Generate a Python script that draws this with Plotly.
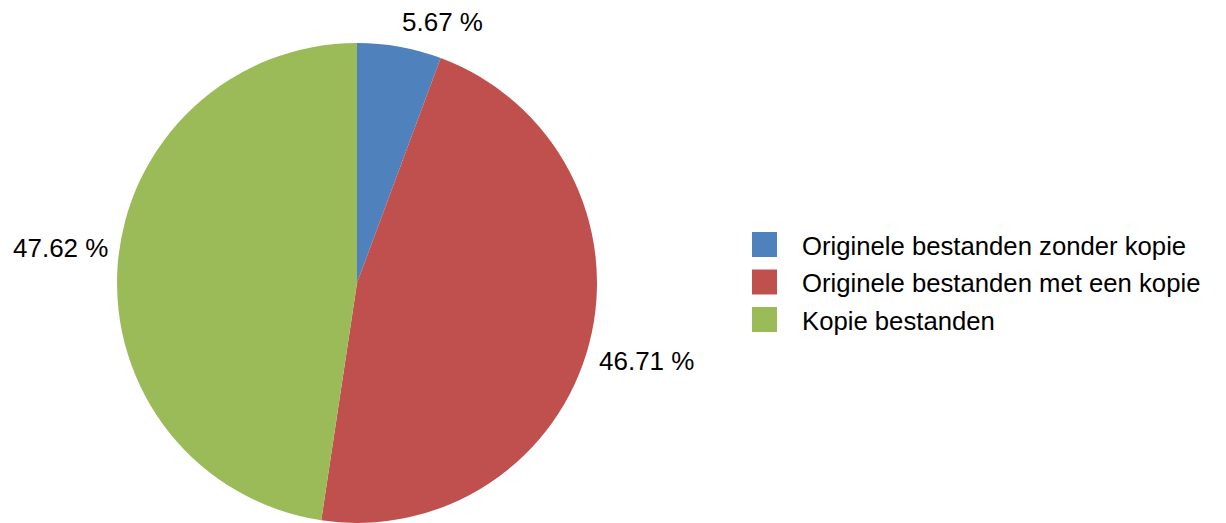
import math
import plotly.graph_objects as go

categories = ["Originele bestanden zonder kopie", "Originele bestanden met een kopie", "Kopie bestanden"]
percentages = [5.67, 46.71, 47.62]
colors = ["#4F81BD", "#C0504D", "#9BBB59"]

W, H = 1226, 523
FONT = "Liberation Sans, Arial, sans-serif"
FS_LABEL = 26
FS_LEGEND = 25.7

# pie placement (pixels from top-left)
cx, r = 357, 240
top = 43
cy = top + r
dom_x = [(cx - r) / W, (cx + r) / W]
dom_y = [max(0.0, (H - (cy + r)) / H), (H - top) / H]

fig = go.Figure()
fig.add_trace(go.Pie(
    labels=categories,
    values=percentages,
    marker=dict(colors=colors, line=dict(width=0)),
    sort=False,
    direction="clockwise",
    rotation=0,
    textposition="none",
    showlegend=False,
    domain=dict(x=dom_x, y=dom_y),
    hoverinfo="label+value",
))

# outside data labels, placed at the mid-angle of each slice
total = sum(percentages)
cum = 0.0
gap = 9
for v in percentages:
    mid = (cum + v / 2) / total * 2 * math.pi
    cum += v
    dx, dy = math.sin(mid), math.cos(mid)  # dy: upward
    px = cx + (r + gap) * dx
    py = cy - (r + gap) * dy
    fig.add_annotation(
        xref="paper", yref="paper",
        x=px / W, y=1 - py / H,
        xanchor="left" if dx >= 0 else "right",
        yanchor="bottom" if dy >= 0 else "top",
        showarrow=False, borderpad=0,
        text=f"{v:.2f} %",
        font=dict(family=FONT, size=FS_LABEL, color="#000000"),
    )

# legend with large square swatches
leg_x0, leg_y0, sw, step = 752, 232, 25, 37.5
for i, (name, col) in enumerate(zip(categories, colors)):
    y_top = leg_y0 + i * step
    fig.add_shape(type="rect", xref="paper", yref="paper",
                  x0=leg_x0 / W, x1=(leg_x0 + sw) / W,
                  y0=1 - (y_top + sw) / H, y1=1 - y_top / H,
                  fillcolor=col, line=dict(width=0))
    fig.add_annotation(xref="paper", yref="paper",
                       x=801 / W, y=1 - (y_top + sw / 2 + 1) / H,
                       xanchor="left", yanchor="middle", showarrow=False,
                       borderpad=0,
                       text=name, font=dict(family=FONT, size=FS_LEGEND, color="#000000"))

fig.update_layout(
    width=W, height=H,
    margin=dict(l=0, r=0, t=0, b=0),
    paper_bgcolor="white", plot_bgcolor="white",
    showlegend=False,
)

fig.write_html(
    "out.html",
    config={"displayModeBar": False},
    post_script="document.body.style.margin='0';document.body.style.overflow='hidden';",
)
